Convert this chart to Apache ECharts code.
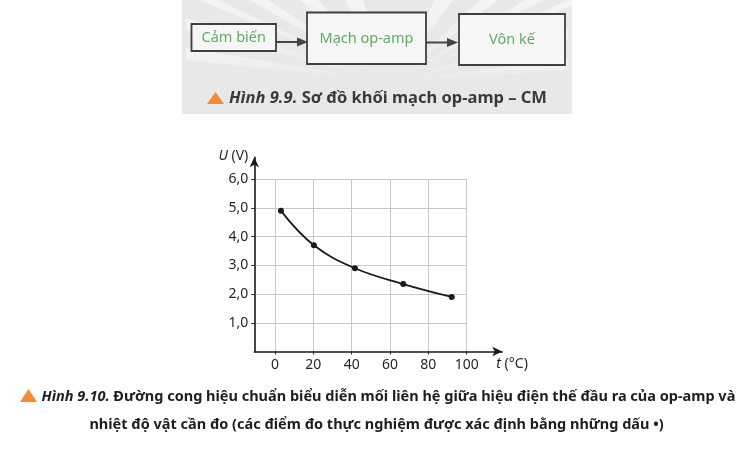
<!DOCTYPE html>
<html><head><meta charset="utf-8">
<script src="https://cdn.jsdelivr.net/npm/echarts@6/dist/echarts.min.js"></script>
<style>html,body{margin:0;padding:0;background:#fff}#c{width:753px;height:452px}</style>
</head><body><div id="c"></div>
<script>
// ---- data ----
const temperatures = [3.1, 20.3, 41.7, 66.9, 92.2];   // t (°C)
const voltages = [4.9, 3.7, 2.9, 2.35, 1.9];          // U (V)
const yTickValues = [1, 2, 3, 4, 5, 6];
const yTickLabels = ['', '1,0', '2,0', '3,0', '4,0', '5,0', '6,0'];
const blockLabels = ['Cảm biến', 'Mạch op-amp', 'Vôn kế'];
const caption99 = ['Hình 9.9.', ' Sơ đồ khối mạch op-amp – CM'];
const caption910 = ['Hình 9.10.', ' Đường cong hiệu chuẩn biểu diễn mối liên hệ giữa hiệu điện thế đầu ra của op-amp và',
  'nhiệt độ vật cần đo (các điểm đo thực nghiệm được xác định bằng những dấu •)'];

const FONT = '"Noto Sans", "Open Sans", sans-serif';
const chart = echarts.init(document.getElementById('c'), null, {renderer: 'canvas'});

const graphics = [];
// block-diagram background
graphics.push({type: 'rect', silent: true, z: -10, shape: {x: 182, y: 0, width: 390, height: 114}, style: {fill: '#e8e8e8'}});
// faint rays
const cx = 392, cy = 82;
const rayTops = [[186, 60], [186, 30], [200, 0], [250, 0], [300, 0], [345, 0], [435, 0], [480, 0], [525, 0], [568, 0], [568, 28], [568, 58]];
for (let i = 0; i < rayTops.length; i++) {
  const p = rayTops[i];
  const q = i < 2 ? [p[0], p[1] - 12] : (i >= rayTops.length - 2 ? [p[0], p[1] + 12] : [p[0] + 18, p[1]]);
  graphics.push({type: 'polygon', silent: true, z: -9, shape: {points: [[cx, cy], p, q]},
    style: {fill: new echarts.graphic.LinearGradient(0, 0, 0, 1, [{offset: 0, color: 'rgba(255,255,255,0.55)'}, {offset: 1, color: 'rgba(255,255,255,0)'}], false)}});
}
// boxes
const boxes = [
  {x: 191.5, y: 24, w: 84.5, h: 27, cy: 38},
  {x: 307, y: 12.5, w: 119, h: 51.5, cy: 38.5},
  {x: 459, y: 14, w: 106, h: 51, cy: 39.5}
];
boxes.forEach((b, i) => {
  graphics.push({type: 'rect', z: -5, shape: {x: b.x, y: b.y, width: b.w, height: b.h},
    style: {fill: '#f6f6f6', stroke: '#3f3f3f', lineWidth: 1.8}});
  graphics.push({type: 'text', z: -4, style: {x: b.x + b.w / 2, y: b.cy, text: blockLabels[i], align: 'center', verticalAlign: 'middle',
    fontFamily: FONT, fontSize: 14.5, fill: '#5fad60'}});
});
// arrows between boxes
[[276, 298, 42], [426, 448, 42.5]].forEach(a => {
  graphics.push({type: 'line', z: -5, shape: {x1: a[0], y1: a[2], x2: a[1], y2: a[2]}, style: {stroke: '#444', lineWidth: 2}});
  graphics.push({type: 'polygon', z: -5, shape: {points: [[a[1] - 1, a[2] - 4.5], [a[1] + 10, a[2]], [a[1] - 1, a[2] + 4.5]]}, style: {fill: '#444'}});
});
// caption 9.9
graphics.push({type: 'polygon', shape: {points: [[207, 104], [215.5, 92], [224, 104]]}, style: {fill: '#f28a3a'}});
graphics.push({type: 'text', style: {x: 229, y: 98.5, text: '{i|' + caption99[0] + '}' + caption99[1], align: 'left', verticalAlign: 'middle',
  fontFamily: FONT, fontSize: 16.5, fontWeight: 'bold', fill: '#3a3a3a',
  rich: {i: {fontFamily: FONT, fontSize: 16.5, fontWeight: 'bold', fontStyle: 'italic', fill: '#3a3a3a'}}}});
// caption 9.10
graphics.push({type: 'polygon', shape: {points: [[20, 402], [28.5, 389], [37, 402]]}, style: {fill: '#f28a3a'}});
graphics.push({type: 'text', style: {x: 41.5, y: 397, text: '{i|' + caption910[0] + '}' + caption910[1], align: 'left', verticalAlign: 'middle',
  fontFamily: FONT, fontSize: 14.5, fontWeight: 'bold', fill: '#1e1e1e',
  rich: {i: {fontFamily: FONT, fontSize: 14.5, fontWeight: 'bold', fontStyle: 'italic', fill: '#1e1e1e'}}}});
graphics.push({type: 'text', style: {x: 376.5, y: 425, text: caption910[2], align: 'center', verticalAlign: 'middle',
  fontFamily: FONT, fontSize: 14.5, fontWeight: 'bold', fill: '#1e1e1e'}});

const labelStyle = {fontFamily: FONT, fontSize: 14, color: '#262626'};
const option = {
  animation: false,
  backgroundColor: '#ffffff',
  grid: [
    {left: 275, top: 179.3, width: 191.7, height: 172.2},
    {left: 254.3, top: 179.3, width: 212.4, height: 172.2},
    {left: 254.3, top: 157.3, width: 248, height: 194.2}
  ],
  xAxis: [
    {gridIndex: 0, type: 'value', min: 0, max: 100, interval: 20,
      axisLine: {show: false},
      axisTick: {show: true, length: 3, lineStyle: {color: '#222', width: 1}},
      axisLabel: Object.assign({margin: 7}, labelStyle),
      splitLine: {show: true, lineStyle: {color: '#c8c8c8', width: 1}}},
    {gridIndex: 1, type: 'value', min: 0, max: 1, show: false},
    {gridIndex: 2, type: 'value', min: 0, max: 1,
      axisLine: {show: true, symbol: ['none', 'arrow'], symbolSize: [7, 10], lineStyle: {color: '#1a1a1a', width: 1.6}},
      axisTick: {show: false}, axisLabel: {show: false}, splitLine: {show: false},
      name: '{i|t} (°C)', nameLocation: 'end', nameGap: -6,
      nameTextStyle: {fontFamily: FONT, fontSize: 14, color: '#262626', align: 'left', verticalAlign: 'top', padding: [6, 0, 0, 0],
        rich: {i: {fontFamily: FONT, fontSize: 14, color: '#262626', fontStyle: 'italic'}}}}
  ],
  yAxis: [
    {gridIndex: 0, type: 'value', min: 0, max: 6, show: false},
    {gridIndex: 1, type: 'value', min: 0, max: 6, interval: 1,
      axisLine: {show: false},
      axisTick: {show: true, length: 3, customValues: yTickValues, lineStyle: {color: '#222', width: 1}},
      axisLabel: Object.assign({margin: 6, customValues: yTickValues, formatter: v => yTickLabels[Math.round(v)]}, labelStyle),
      splitLine: {show: true, lineStyle: {color: '#c8c8c8', width: 1}}},
    {gridIndex: 2, type: 'value', min: 0, max: 1,
      axisLine: {show: true, symbol: ['none', 'arrow'], symbolSize: [7, 10], lineStyle: {color: '#1a1a1a', width: 1.6}},
      axisTick: {show: false}, axisLabel: {show: false}, splitLine: {show: false},
      name: '{i|U} (V)', nameLocation: 'end', nameGap: 1,
      nameTextStyle: {fontFamily: FONT, fontSize: 14, color: '#262626', align: 'right', verticalAlign: 'middle', padding: [0, 6, 0, 0],
        rich: {i: {fontFamily: FONT, fontSize: 14, color: '#262626', fontStyle: 'italic'}}}}
  ],
  series: [{
    type: 'line', xAxisIndex: 0, yAxisIndex: 0, z: 5,
    data: temperatures.map((t, i) => [t, voltages[i]]),
    smooth: 0.4,
    symbol: 'circle', symbolSize: 6,
    itemStyle: {color: '#1a1a1a'},
    lineStyle: {color: '#1a1a1a', width: 1.8}
  }],
  graphic: graphics
};
chart.setOption(option);
</script></body></html>
